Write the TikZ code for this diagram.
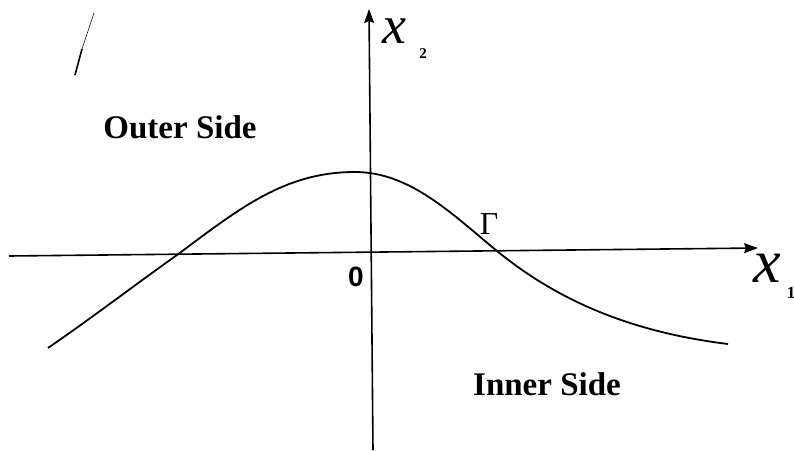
\documentclass[tikz,border=0pt]{standalone}
\usepackage{fontspec}
\setmainfont{Liberation Serif}
\newfontfamily\sansbold{Liberation Sans}
\usetikzlibrary{arrows.meta}
\begin{document}
\begin{tikzpicture}[x=1pt,y=-1pt,
  axis/.style={line width=1.6pt,-{Stealth[length=14pt,width=10pt,inset=2pt]}},
  curve/.style={line width=1.8pt},
  region/.style={font=\fontsize{33}{36}\selectfont\bfseries,inner sep=0pt},
  varx/.style={inner sep=0pt,font=\itshape},
  subnum/.style={inner sep=0pt,font=\bfseries}]
\useasboundingbox (0,0) rectangle (794,450);
% axes
\coordinate (xl) at (9,256);
\coordinate (xr) at (758,248);
\coordinate (yb) at (373,450);
\coordinate (yt) at (369,9);
\draw[axis] (xl) -- (xr);
\draw[axis] (yb) -- (yt);
% curve Gamma
\coordinate (cA) at (48,348);
\coordinate (cB) at (177,255);
\coordinate (cC) at (355,172);
\coordinate (cD) at (497,251);
\coordinate (cE) at (728,344);
\draw[curve] (cA) .. controls (93,317) and (132,287) .. (cB)
  .. controls (240,208) and (285,172) .. (cC)
  .. controls (410,172) and (452,214) .. (cD)
  .. controls (557,300) and (630,332) .. (cE);
% scan mark
\draw[line width=1.6pt] (75,75) -- (82,49);
\draw[line width=0.6pt] (82,49) -- (94,13);
% labels
\node[region] (outer) at (180,127) {Outer Side};
\node[region] (inner) at (547,384) {Inner Side};
\node[inner sep=0pt,font=\sansbold\fontsize{28}{30}\selectfont\bfseries] (zero) at (356,277) {0};
\node[inner sep=0pt,font=\fontsize{32}{34}\selectfont] (gamma) at (489,224) {Γ};
\node[varx,font=\fontsize{54}{58}\selectfont\itshape] (x2) at (394,31) {x};
\node[subnum,font=\fontsize{15}{16}\selectfont\bfseries] (s2) at (423,54) {2};
\node[varx,font=\fontsize{62}{66}\selectfont\itshape] (x1) at (767,268) {x};
\node[subnum,font=\fontsize{17}{18}\selectfont\bfseries] (s1) at (791,293) {1};
\end{tikzpicture}
\end{document}
